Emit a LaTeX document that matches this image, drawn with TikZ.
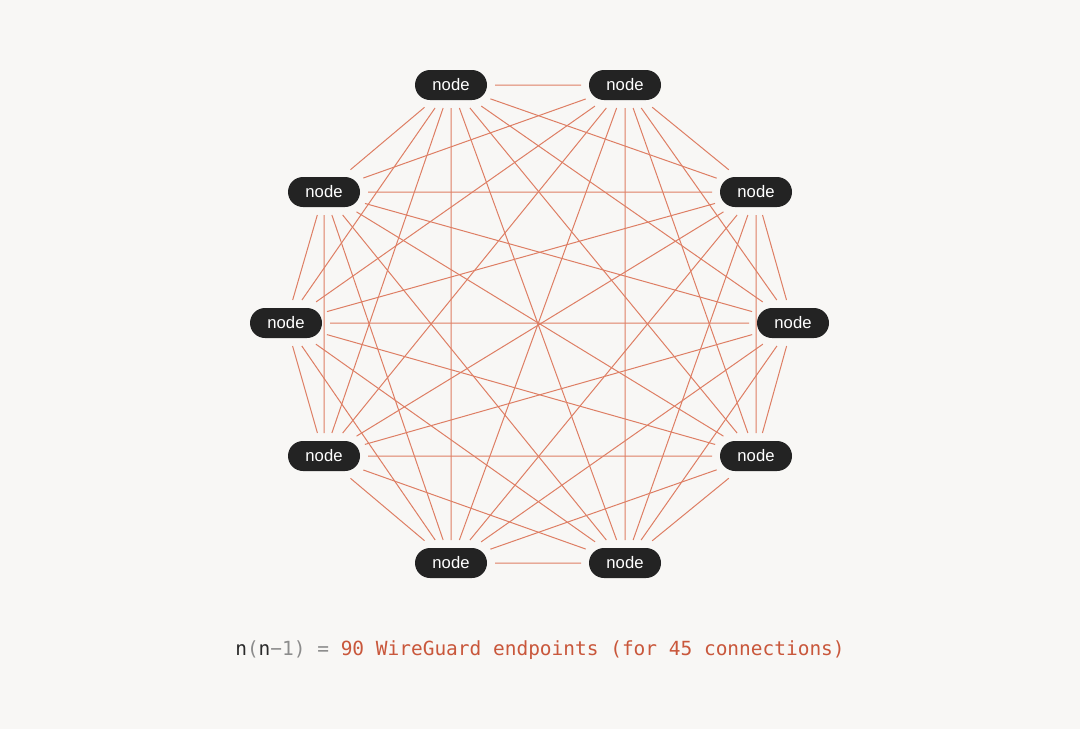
\documentclass[tikz,border=0pt]{standalone}
\usepackage{fontspec}
\setmainfont{Liberation Sans}
\newfontfamily\codefont{DejaVu Sans Mono}
\usetikzlibrary{shapes.misc}

\definecolor{paper}{HTML}{F8F7F5}
\definecolor{peerfill}{HTML}{232323}
\definecolor{linkred}{HTML}{DE7E64}
\definecolor{codeorange}{HTML}{C9573B}
\definecolor{codegray}{HTML}{8C8C8C}
\definecolor{codedark}{HTML}{2A2A2A}

\begin{document}
\begin{tikzpicture}[
  x=0.75pt, y=-0.75pt,
  peer/.style={rounded rectangle, fill=peerfill, text=white, minimum width=72*0.75pt,
    minimum height=30*0.75pt, inner sep=0pt, outer sep=6pt, font=\fontsize{12.5}{14}\selectfont},
  link/.style={draw=linkred, line width=0.75pt}
]
\fill[paper] (0,0) rectangle (1080,729);
\useasboundingbox (0,0) rectangle (1080,729);

% Peers around the ring
\node[peer] (p1)  at (451,85)  {node};
\node[peer] (p2)  at (625,85)  {node};
\node[peer] (p3)  at (756,192) {node};
\node[peer] (p4)  at (793,323) {node};
\node[peer] (p5)  at (756,456) {node};
\node[peer] (p6)  at (625,563) {node};
\node[peer] (p7)  at (451,563) {node};
\node[peer] (p8)  at (324,456) {node};
\node[peer] (p9)  at (286,323) {node};
\node[peer] (p10) at (324,192) {node};

% Full mesh
\foreach \i in {1,...,9} {
  \pgfmathtruncatemacro\nexti{\i+1}
  \foreach \j in {\nexti,...,10}
    \draw[link] (p\i) -- (p\j);
}

% Caption
\node[font=\codefont\fontsize{14.6}{17}\selectfont, anchor=base] (caption) at (540,655)
  {\textcolor{codedark}{n}\textcolor{codegray}{(}\textcolor{codedark}{n}\textcolor{codegray}{−1)
  =} \textcolor{codeorange}{90 WireGuard endpoints (for 45 connections)}};
\end{tikzpicture}
\end{document}
